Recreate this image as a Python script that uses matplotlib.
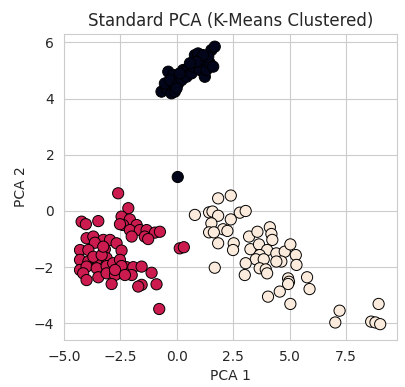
import matplotlib
matplotlib.use("Agg")
import matplotlib.pyplot as plt
import numpy as np
import seaborn as sns

# cluster 0 (dark)
c0_x = [-0.68, -0.46, -0.24, -0.09, -0.53, -0.38, -0.16, -0.31, 0.06, 0.21, 0.28, 0.50,
        0.43, 0.65, 0.72, 0.80, 0.94, 1.09, 1.16, 1.02, 1.24, 1.31, 1.46, 1.61, 1.53,
        1.68, 1.39, 1.16, 0.87, 0.13, -0.01, 0.58, 0.04]
c0_y = [4.25, 4.37, 4.19, 4.25, 4.54, 4.96, 4.84, 4.66, 4.54, 4.66, 5.02, 5.08,
        4.78, 4.90, 5.14, 5.55, 5.61, 5.43, 5.26, 5.02, 4.78, 5.02, 5.26, 5.14, 5.73,
        5.85, 5.49, 5.55, 5.31, 4.90, 4.37, 5.26, 1.21]

# cluster 1 (crimson)
c1_x = [-2.60, -2.15, -4.22, -4.03, -3.48, -2.45, -2.08, -2.38, -2.52, -1.78, -2.08, -1.64,
        -1.34, -0.97, -2.00, -1.42, -1.27, -4.00, -3.70, -3.26, -2.96, -3.63, -2.67, -4.29,
        -3.92, -3.19, -2.45, -4.29, -3.92, -3.55, -3.11, -4.29, -4.00, -3.55, -3.11, -2.82,
        -2.52, -2.23, -1.93, -1.56, -1.12, -2.60, -4.15, -4.00, -3.48, -3.11, -2.74, -2.00,
        -2.89, -1.56, -1.71, -0.90, -0.78, -2.45, -3.70, -3.33, -2.74, -2.30, -3.26, 0.13,
        0.31, -0.75]
c1_y = [0.63, 0.10, -0.38, -0.47, -0.36, -0.20, -0.30, -0.50, -0.47, -0.50, -0.68, -0.68,
        -0.68, -0.77, -0.91, -0.91, -1.00, -0.97, -0.91, -1.03, -1.03, -1.13, -1.15, -1.39,
        -1.39, -1.36, -1.41, -1.74, -1.80, -1.74, -1.68, -2.10, -1.98, -2.04, -1.96, -1.86,
        -1.74, -2.00, -2.00, -1.98, -2.20, -2.22, -2.22, -2.46, -2.36, -2.22, -2.28, -2.28,
        -2.60, -2.63, -2.69, -2.61, -3.49, -1.96, -1.63, -1.57, -2.10, -2.28, -1.27, -1.33,
        -1.29, -0.74]

# cluster 2 (cream)
c2_x = [1.83, 2.39, 0.80, 1.43, 1.58, 1.83, 2.79, 3.05, 1.53, 2.39, 2.05, 2.24,
        1.43, 1.64, 1.83, 2.52, 2.49, 1.68, 3.20, 3.57, 4.12, 4.19, 4.23, 3.26,
        3.64, 4.00, 3.67, 3.50, 3.85, 3.05, 3.01, 3.67, 3.94, 4.00, 4.41, 4.78,
        5.03, 5.27, 4.63, 4.41, 5.30, 4.93, 4.97, 4.93, 5.77, 5.88, 4.56, 4.04,
        5.03, 7.21, 7.02, 8.94, 8.61, 8.80, 9.01]
c2_y = [0.45, 0.55, -0.14, -0.05, -0.02, -0.17, -0.06, 0.00, -0.44, -0.30, -0.65, -0.71,
        -0.76, -0.76, -1.15, -1.15, -1.39, -2.02, -0.91, -0.74, -0.58, -0.82, -1.03, -1.36,
        -1.19, -1.39, -1.57, -1.72, -1.72, -1.86, -2.28, -2.04, -2.08, -2.22, -1.51, -1.45,
        -1.19, -1.57, -1.80, -1.80, -1.92, -2.40, -2.52, -2.60, -2.36, -2.78, -2.87, -3.05,
        -3.31, -3.55, -3.97, -3.31, -3.94, -3.97, -4.03]

sns.set_style("whitegrid")

x = np.array(c0_x + c1_x + c2_x)
y = np.array(c0_y + c1_y + c2_y)
labels = np.array([0] * len(c0_x) + [1] * len(c1_x) + [2] * len(c2_x))

fig = plt.figure(figsize=(4.05, 3.87), dpi=100)
ax = fig.add_axes([0.158, 0.121, 0.822, 0.791])
ax.scatter(x, y, c=labels, cmap="rocket", s=65, edgecolor="k", linewidth=0.7)
ax.set_xlim(-5.0, 9.75)
ax.set_ylim(-4.6, 6.3)
ax.set_xticks([-5.0, -2.5, 0.0, 2.5, 5.0, 7.5])
ax.set_title("Standard PCA (K-Means Clustered)", fontsize=12)
ax.set_xlabel("PCA 1")
ax.set_ylabel("PCA 2")
fig.savefig("out.png", dpi=100)
